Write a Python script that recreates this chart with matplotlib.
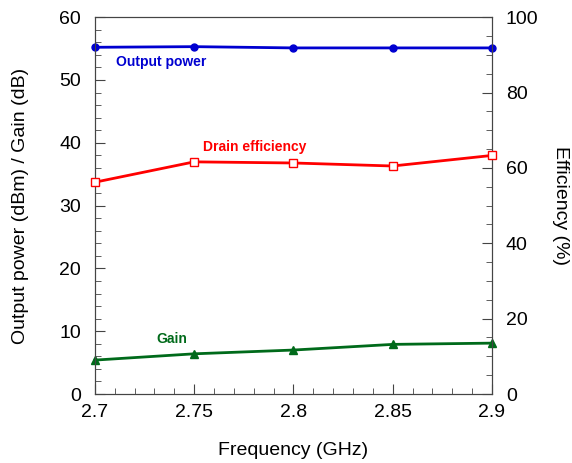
import numpy as np
import matplotlib.pyplot as plt
from matplotlib.ticker import MultipleLocator

plt.rcParams['font.family'] = ['Liberation Sans', 'DejaVu Sans']

freq = [2.7, 2.75, 2.8, 2.85, 2.9]
pout = [55.2, 55.3, 55.1, 55.1, 55.1]
gain = [5.4, 6.4, 7.0, 7.9, 8.1]
eff = [56.2, 61.6, 61.3, 60.5, 63.3]

blue = '#0000d0'
red = '#ff0000'
green = '#006a1a'

fig, ax = plt.subplots(figsize=(5.72, 4.63), dpi=100)
fig.subplots_adjust(left=0.166, right=0.86, top=0.963, bottom=0.149)

ax.plot(freq, pout, color=blue, lw=2, marker='o', ms=5, zorder=3, clip_on=False)
ax.plot(freq, gain, color=green, lw=2, marker='^', ms=6, zorder=3, clip_on=False)
ax.set_xlim(2.7, 2.9)
ax.set_ylim(0, 60)
ax.xaxis.set_minor_locator(MultipleLocator(0.01))
ax.yaxis.set_major_locator(MultipleLocator(10))
ax.yaxis.set_minor_locator(MultipleLocator(2))
ax.set_xticks(freq)
ax.set_xticklabels(['2.7', '2.75', '2.8', '2.85', '2.9'])
ax.set_xlabel('Frequency (GHz)', fontsize=14, labelpad=15)
ax.set_ylabel('Output power (dBm) / Gain (dB)', fontsize=14, labelpad=22)

ax2 = ax.twinx()
ax2.plot(freq, eff, color=red, lw=2, marker='s', ms=6, mfc='white', mec=red,
         zorder=3, clip_on=False)
ax2.set_ylim(0, 100)
ax2.yaxis.set_major_locator(MultipleLocator(20))
ax2.yaxis.set_minor_locator(MultipleLocator(5))
ax2.set_ylabel('Efficiency (%)', fontsize=14, rotation=270, labelpad=22)

for a in (ax, ax2):
    a.tick_params(which='both', direction='in', labelsize=14, color='#444444')
    a.tick_params(which='major', length=7)
    a.tick_params(which='minor', length=4)
    for s in a.spines.values():
        s.set_color('#444444')
ax.tick_params(axis='y', right=False, pad=10)
ax2.tick_params(axis='y', pad=10)
ax.tick_params(axis='x', top=False, pad=7)

ax.text(2.7106, 52.9, 'Output power', color=blue, fontsize=10,
        fontweight='bold', va='center')
ax.text(2.7544, 39.3, 'Drain efficiency', color=red, fontsize=10,
        fontweight='bold', va='center')
ax.text(2.7307, 8.8, 'Gain', color=green, fontsize=10,
        fontweight='bold', va='center')

plt.savefig('out.png')
